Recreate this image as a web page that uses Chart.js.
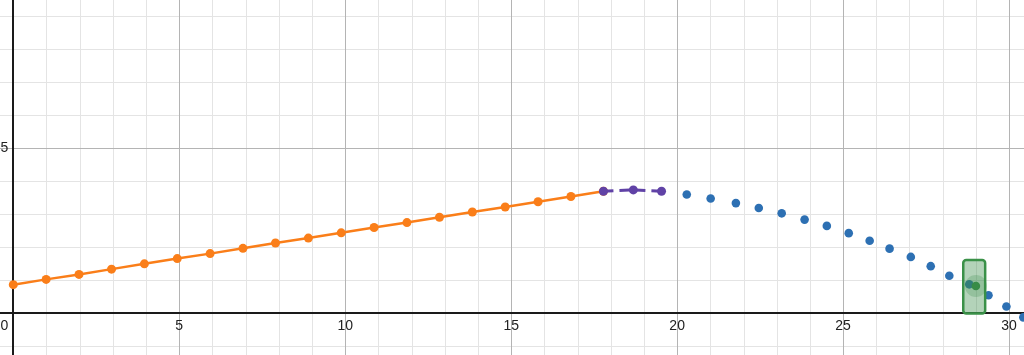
<!DOCTYPE html>
<html>
<head>
<meta charset="utf-8">
<script src="https://cdn.jsdelivr.net/npm/chart.js@4"></script>
<style>
  html, body { margin: 0; padding: 0; background: #fff; }
  #wrap { width: 1024px; height: 355px; position: relative; }
</style>
</head>
<body>
<div id="wrap"><canvas id="graph"></canvas></div>
<script>
// === DATA ===
const orangeX = [0, 0.99, 1.98, 2.96, 3.95, 4.94, 5.93, 6.92, 7.9, 8.89, 9.88, 10.87, 11.86, 12.84, 13.83, 14.82, 15.81, 16.8, 17.78];
const orangeY = [0.87, 1.03, 1.18, 1.34, 1.5, 1.66, 1.81, 1.97, 2.13, 2.28, 2.44, 2.6, 2.75, 2.91, 3.07, 3.22, 3.38, 3.54, 3.7];

const purpleX = [17.78, 18.68, 19.53];
const purpleY = [3.7, 3.74, 3.7];

const blueX = [20.29, 21.01, 21.77, 22.46, 23.15, 23.84, 24.51, 25.17, 25.8, 26.4, 27.04, 27.64, 28.2, 28.8, 29.38, 29.92, 30.43];
const blueY = [3.6, 3.48, 3.34, 3.19, 3.03, 2.84, 2.65, 2.43, 2.2, 1.96, 1.71, 1.43, 1.14, 0.88, 0.55, 0.21, -0.12];

const greenX = [29.0];
const greenY = [0.83];

// box around the green point: [left, right], [bottom, top]
const boxX = [28.62, 29.28];
const boxY = [0, 1.62];

const xTickLabels = [0, 5, 10, 15, 20, 25, 30];
const yTickLabels = [5];

const xMin = -0.4, xMax = 30.45;
const yMin = -1.26, yMax = 9.49;

const toPoints = (xs, ys) => xs.map((x, i) => ({ x: x, y: ys[i] }));

// === PLUGINS ===
// grid every 1, darker every 5, axes in black
const gridPlugin = {
  id: 'desmosGrid',
  beforeDatasetsDraw(chart) {
    const { ctx, chartArea: a, scales: { x, y } } = chart;
    ctx.save();
    const line = (x1, y1, x2, y2, color, w) => {
      ctx.beginPath();
      ctx.strokeStyle = color;
      ctx.lineWidth = w;
      ctx.moveTo(x1, y1);
      ctx.lineTo(x2, y2);
      ctx.stroke();
    };
    [false, true].forEach(major => {
      for (let v = Math.ceil(x.min); v <= x.max; v++) {
        if (v === 0 || (v % 5 === 0) !== major) continue;
        const px = Math.round(x.getPixelForValue(v)) + 0.5;
        line(px, a.top, px, a.bottom, major ? '#b4b4b4' : '#e4e4e4', 1);
      }
      for (let v = Math.ceil(y.min); v <= y.max; v++) {
        if (v === 0 || (v % 5 === 0) !== major) continue;
        const py = Math.round(y.getPixelForValue(v)) + 0.5;
        line(a.left, py, a.right, py, major ? '#b4b4b4' : '#e4e4e4', 1);
      }
    });
    const ax = Math.round(x.getPixelForValue(0));
    const ay = Math.round(y.getPixelForValue(0));
    line(ax, a.top, ax, a.bottom, '#1a1a1a', 2);
    line(a.left, ay, a.right, ay, '#1a1a1a', 2);
    ctx.restore();
  }
};

const boxPlugin = {
  id: 'greenBox',
  beforeDatasetDraw(chart, args) {
    if (chart.data.datasets[args.index].label !== 'halo') return;
    const { ctx, scales: { x, y } } = chart;
    const l = x.getPixelForValue(boxX[0]);
    const r = x.getPixelForValue(boxX[1]);
    const t = y.getPixelForValue(boxY[1]);
    const b = y.getPixelForValue(boxY[0]);
    ctx.save();
    ctx.beginPath();
    if (ctx.roundRect) ctx.roundRect(l, t, r - l, b - t, 3);
    else ctx.rect(l, t, r - l, b - t);
    ctx.fillStyle = 'rgba(56, 140, 70, 0.38)';
    ctx.fill();
    ctx.lineWidth = 2.5;
    ctx.strokeStyle = '#3a9148';
    ctx.stroke();
    ctx.restore();
  }
};

const labelPlugin = {
  id: 'axisLabels',
  afterDatasetsDraw(chart) {
    const { ctx, scales: { x, y } } = chart;
    const x0 = x.getPixelForValue(0);
    const y0 = y.getPixelForValue(0);
    ctx.save();
    ctx.font = '14px "Liberation Sans", Arial, sans-serif';
    ctx.fillStyle = '#222';
    ctx.textBaseline = 'middle';
    xTickLabels.forEach(v => {
      if (v === 0) {
        ctx.textAlign = 'right';
        ctx.fillText(String(v), x0 - 5, y0 + 13);
      } else {
        ctx.textAlign = 'center';
        ctx.fillText(String(v), x.getPixelForValue(v), y0 + 13);
      }
    });
    yTickLabels.forEach(v => {
      ctx.textAlign = 'right';
      ctx.fillText(String(v), x0 - 5, y.getPixelForValue(v));
    });
    ctx.restore();
  }
};

// === CHART ===
new Chart(document.getElementById('graph'), {
  type: 'scatter',
  data: {
    datasets: [
      {
        label: 'blue',
        data: toPoints(blueX, blueY),
        backgroundColor: '#2d70b3',
        borderColor: '#2d70b3',
        pointRadius: 4.3,
        pointBorderWidth: 0,
        showLine: false,
        order: 5
      },
      {
        label: 'orange',
        data: toPoints(orangeX, orangeY),
        backgroundColor: '#fa7e19',
        borderColor: '#fa7e19',
        borderWidth: 2.5,
        pointRadius: 4.5,
        pointBorderWidth: 0,
        showLine: true,
        order: 4
      },
      {
        label: 'purple',
        data: toPoints(purpleX, purpleY),
        backgroundColor: '#6042a6',
        borderColor: '#6042a6',
        borderWidth: 3,
        borderDash: [10, 6],
        pointRadius: 4.5,
        pointBorderWidth: 0,
        showLine: true,
        order: 3
      },
      {
        label: 'halo',
        data: toPoints(greenX, greenY),
        backgroundColor: 'rgba(56, 140, 70, 0.25)',
        borderWidth: 0,
        pointRadius: 11,
        showLine: false,
        order: 2
      },
      {
        label: 'green',
        data: toPoints(greenX, greenY),
        backgroundColor: '#388c46',
        borderWidth: 0,
        pointRadius: 4.3,
        showLine: false,
        order: 1
      }
    ]
  },
  options: {
    responsive: true,
    maintainAspectRatio: false,
    animation: false,
    layout: { padding: 0, autoPadding: false },
    plugins: {
      legend: { display: false },
      tooltip: { enabled: false }
    },
    scales: {
      x: { type: 'linear', display: false, min: xMin, max: xMax },
      y: { type: 'linear', display: false, min: yMin, max: yMax }
    }
  },
  plugins: [gridPlugin, boxPlugin, labelPlugin]
});
</script>
</body>
</html>
